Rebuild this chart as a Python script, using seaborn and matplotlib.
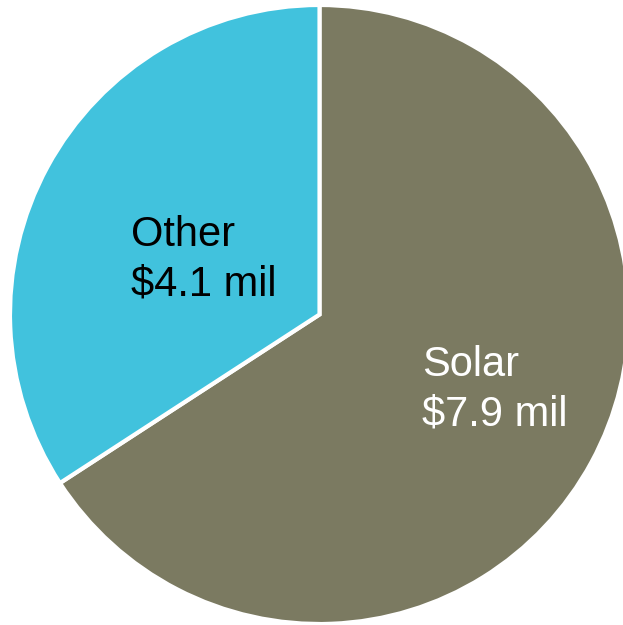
import matplotlib
matplotlib.use("Agg")
import matplotlib.pyplot as plt
import seaborn as sns

# Funding split (millions of dollars)
categories = ["Solar", "Other"]
values = [7.9, 4.1]
label_text = ["Solar\n$7.9 mil", "Other\n$4.1 mil"]

sns.set_style("white")
plt.rcParams["font.family"] = ["Liberation Sans", "DejaVu Sans"]

colors = ["#7B7A61", "#41C2DD"]
text_colors = ["white", "black"]
# label anchor positions in data units (upper-left of each text block)
label_pos = [(0.33, -0.10), (-0.61, 0.32)]

fig = plt.figure(figsize=(6.23, 6.25), dpi=100)
ax = fig.add_axes([10 / 623, 1 / 625, 619 / 623, 619 / 625])

wedges, _ = ax.pie(
    values,
    colors=colors,
    startangle=90,
    counterclock=False,
    radius=1.0,
    wedgeprops=dict(edgecolor="white", linewidth=3),
)
for w in wedges:
    w.set_clip_on(False)

for txt, (x, y), c in zip(label_text, label_pos, text_colors):
    ax.text(x, y, txt, ha="left", va="top", fontsize=30, color=c,
            linespacing=1.28)

ax.set_xlim(-1, 1)
ax.set_ylim(-1, 1)
ax.set_aspect("equal")
ax.axis("off")

fig.savefig("out.png", dpi=100)
